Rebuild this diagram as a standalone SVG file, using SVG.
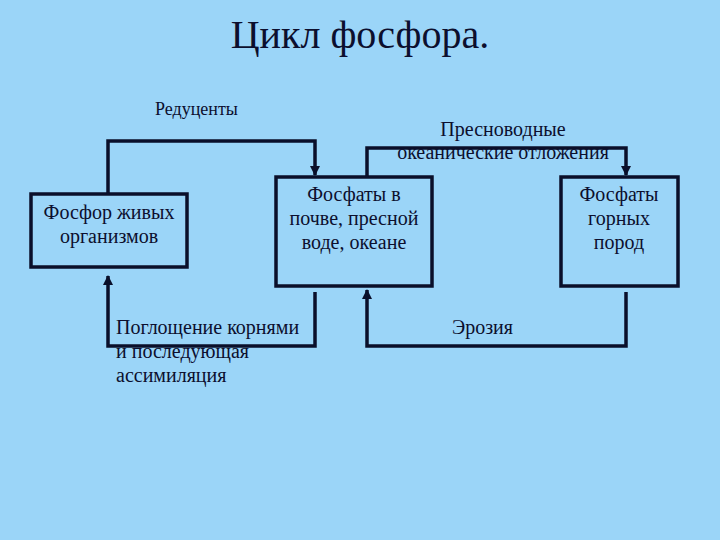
<svg xmlns="http://www.w3.org/2000/svg" width="720" height="540" viewBox="0 0 720 540">
<style>
text{font-family:"Liberation Serif","Times New Roman","DejaVu Serif",serif;fill:#0c0f2e;font-size:20px}
.c{text-anchor:middle}
.box{fill:none;stroke:#0a0f2a;stroke-width:3.5}
.ln{fill:none;stroke:#0a0f2a;stroke-width:3.5;stroke-linejoin:miter}
</style>
<defs>
<marker id="ah" viewBox="0 0 10 10" refX="9" refY="5" markerWidth="3" markerHeight="3" orient="auto" markerUnits="strokeWidth">
<path d="M0,0 L10,5 L0,10 z" fill="#0a0f2a"/>
</marker>
</defs>
<rect width="720" height="540" fill="#9bd5f8"/>
<text class="c" x="360" y="48" style="font-size:40px">Цикл фосфора.</text>
<g id="n1">
<rect class="box" x="31" y="194" width="156" height="73"/>
<text class="c" x="109" y="219">Фосфор живых</text>
<text class="c" x="109" y="243">организмов</text>
</g>
<g id="n2">
<rect class="box" x="276" y="177" width="156" height="109"/>
<text class="c" x="354" y="201">Фосфаты в</text>
<text class="c" x="354" y="225">почве, пресной</text>
<text class="c" x="354" y="249">воде, океане</text>
</g>
<g id="n3">
<rect class="box" x="561" y="177" width="117" height="109"/>
<text class="c" x="619" y="201">Фосфаты</text>
<text class="c" x="619" y="225">горных</text>
<text class="c" x="619" y="249">пород</text>
</g>
<g id="connectors">
<path class="ln" d="M108,194 V141 H315 V175" marker-end="url(#ah)"/>
<path class="ln" d="M367,177 V148 H626 V175" marker-end="url(#ah)"/>
<path class="ln" d="M315,292 V346 H108 V276" marker-end="url(#ah)"/>
<path class="ln" d="M626,292 V346 H367 V290" marker-end="url(#ah)"/>
</g>
<g id="labels">
<text x="155" y="115" style="font-size:18px">Редуценты</text>
<text class="c" x="503" y="136">Пресноводные</text>
<text class="c" x="503" y="159">океанические отложения</text>
<text x="116" y="334">Поглощение корнями</text>
<text x="116" y="358">и последующая</text>
<text x="116" y="382">ассимиляция</text>
<text x="452" y="334">Эрозия</text>
</g>
</svg>
